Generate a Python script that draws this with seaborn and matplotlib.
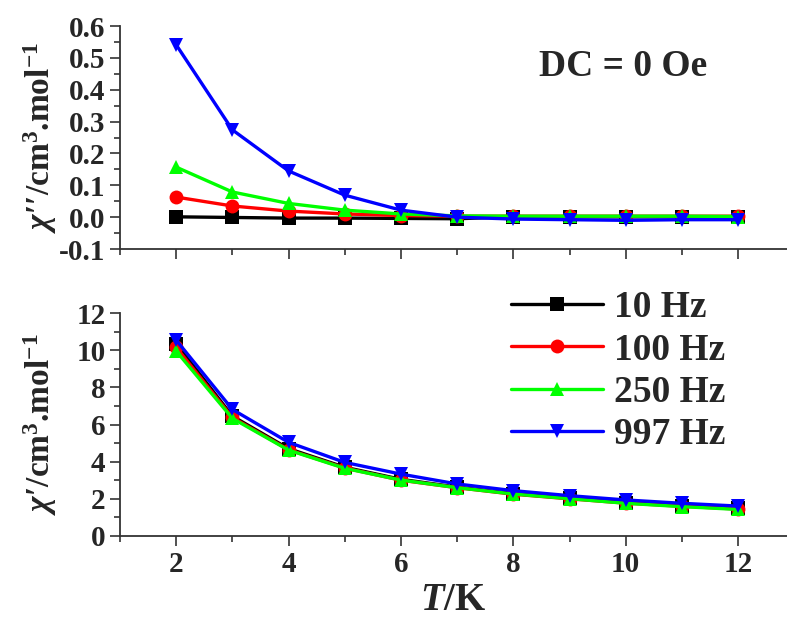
import numpy as np
import pandas as pd
import matplotlib
matplotlib.use("Agg")
import matplotlib.pyplot as plt
import seaborn as sns
from matplotlib.ticker import MultipleLocator

sns.set_theme(style="ticks")
plt.rcParams["font.family"] = ["Liberation Serif", "DejaVu Serif"]
plt.rcParams["font.weight"] = "bold"
plt.rcParams["mathtext.fontset"] = "custom"
plt.rcParams["mathtext.rm"] = "Liberation Serif:bold"
plt.rcParams["mathtext.it"] = "Liberation Serif:italic:bold"
plt.rcParams["mathtext.bf"] = "Liberation Serif:bold"
plt.rcParams["mathtext.default"] = "rm"
plt.rcParams["axes.unicode_minus"] = False

temps = [2, 3, 4, 5, 6, 7, 8, 9, 10, 11, 12]
freqs = ["10 Hz", "100 Hz", "250 Hz", "997 Hz"]

chi2_10 = [0.001, -0.001, -0.003, -0.003, -0.004, -0.005, 0.001, 0.001, 0.001, 0.001, 0.001]
chi2_100 = [0.063, 0.035, 0.019, 0.010, 0.005, 0.003, 0.003, 0.003, 0.003, 0.003, 0.003]
chi2_250 = [0.157, 0.079, 0.043, 0.022, 0.010, 0.004, 0.003, 0.003, 0.003, 0.003, 0.002]
chi2_997 = [0.541, 0.274, 0.145, 0.069, 0.022, 0.000, -0.006, -0.008, -0.010, -0.008, -0.008]

chi1_10 = [10.35, 6.45, 4.70, 3.70, 3.05, 2.63, 2.28, 2.03, 1.80, 1.63, 1.48]
chi1_100 = [10.15, 6.38, 4.64, 3.66, 3.00, 2.60, 2.25, 2.00, 1.77, 1.60, 1.45]
chi1_250 = [9.95, 6.33, 4.62, 3.64, 3.01, 2.60, 2.26, 2.01, 1.76, 1.58, 1.43]
chi1_997 = [10.54, 6.81, 5.04, 3.96, 3.33, 2.80, 2.44, 2.17, 1.94, 1.76, 1.61]

colors = ["#000000", "#ff0000", "#00ff00", "#0000ff"]
markers = ["s", "o", "^", "v"]

def long_df(series):
    rows = []
    for f, vals in zip(freqs, series):
        for t, v in zip(temps, vals):
            rows.append({"T": t, "chi": v, "freq": f})
    return pd.DataFrame(rows)

df2 = long_df([chi2_10, chi2_100, chi2_250, chi2_997])
df1 = long_df([chi1_10, chi1_100, chi1_250, chi1_997])

fig = plt.figure(figsize=(7.87, 6.19), dpi=100)
ax1 = fig.add_axes([120/787, 1-249/619, 1-120/787, 223/619])
ax2 = fig.add_axes([120/787, 1-536/619, 1-120/787, 223/619])

kw = dict(x="T", y="chi", hue="freq", style="freq", palette=colors,
          markers=markers, dashes=False, linewidth=2.4, markersize=10,
          markeredgewidth=0)
sns.lineplot(data=df2, ax=ax1, legend=False, **kw)
sns.lineplot(data=df1, ax=ax2, legend=True, **kw)

spine_c = "#333333"
for ax in (ax1, ax2):
    ax.set_xlim(1, 12.87)
    ax.spines["top"].set_visible(False)
    ax.spines["right"].set_visible(False)
    for s in ("left", "bottom"):
        ax.spines[s].set_color(spine_c)
        ax.spines[s].set_linewidth(1.3)
    ax.xaxis.set_major_locator(MultipleLocator(2))
    ax.xaxis.set_minor_locator(MultipleLocator(1))
    ax.tick_params(which="major", length=7, width=1.2, color=spine_c, labelsize=21)
    ax.tick_params(which="minor", length=4, width=1.2, color=spine_c)
    ax.set_xlabel("")
    for lab in ax.get_yticklabels() + ax.get_xticklabels():
        lab.set_fontweight("bold")

ax1.set_ylim(-0.1, 0.6)
ax1.yaxis.set_major_locator(MultipleLocator(0.1))
ax1.yaxis.set_minor_locator(MultipleLocator(0.05))
ax1.yaxis.set_major_formatter(matplotlib.ticker.FormatStrFormatter("%.1f"))
ax1.tick_params(axis="x", labelbottom=False)

ax2.set_ylim(0, 12)
ax2.yaxis.set_major_locator(MultipleLocator(2))
ax2.yaxis.set_minor_locator(MultipleLocator(1))

ax1.set_ylabel(r"$\mathit{\chi}$′′/cm$^{3}$.mol$^{-1}$", fontsize=24, fontweight="bold")
ax2.set_ylabel(r"$\mathit{\chi}$′/cm$^{3}$.mol$^{-1}$", fontsize=24, fontweight="bold")
ax1.yaxis.set_label_coords(-0.092, 0.5)
ax2.yaxis.set_label_coords(-0.092, 0.5)
ax2.set_xlabel(r"$\mathit{T}$/K", fontsize=28, fontweight="bold", labelpad=3)

fig.text(623/787, 1-66/619, "DC = 0 Oe", fontsize=27, fontweight="bold",
         ha="center", va="center")

handles, labels = ax2.get_legend_handles_labels()
leg = ax2.legend(handles, labels, loc="upper left",
                 bbox_to_anchor=(511/787, 1-290/619), bbox_transform=fig.transFigure,
                 frameon=False, fontsize=27, handlelength=2.45, handletextpad=0.3,
                 labelspacing=0.2, borderpad=0, borderaxespad=0)
for t in leg.get_texts():
    t.set_fontweight("bold")

fig.savefig("out.png", dpi=100)
